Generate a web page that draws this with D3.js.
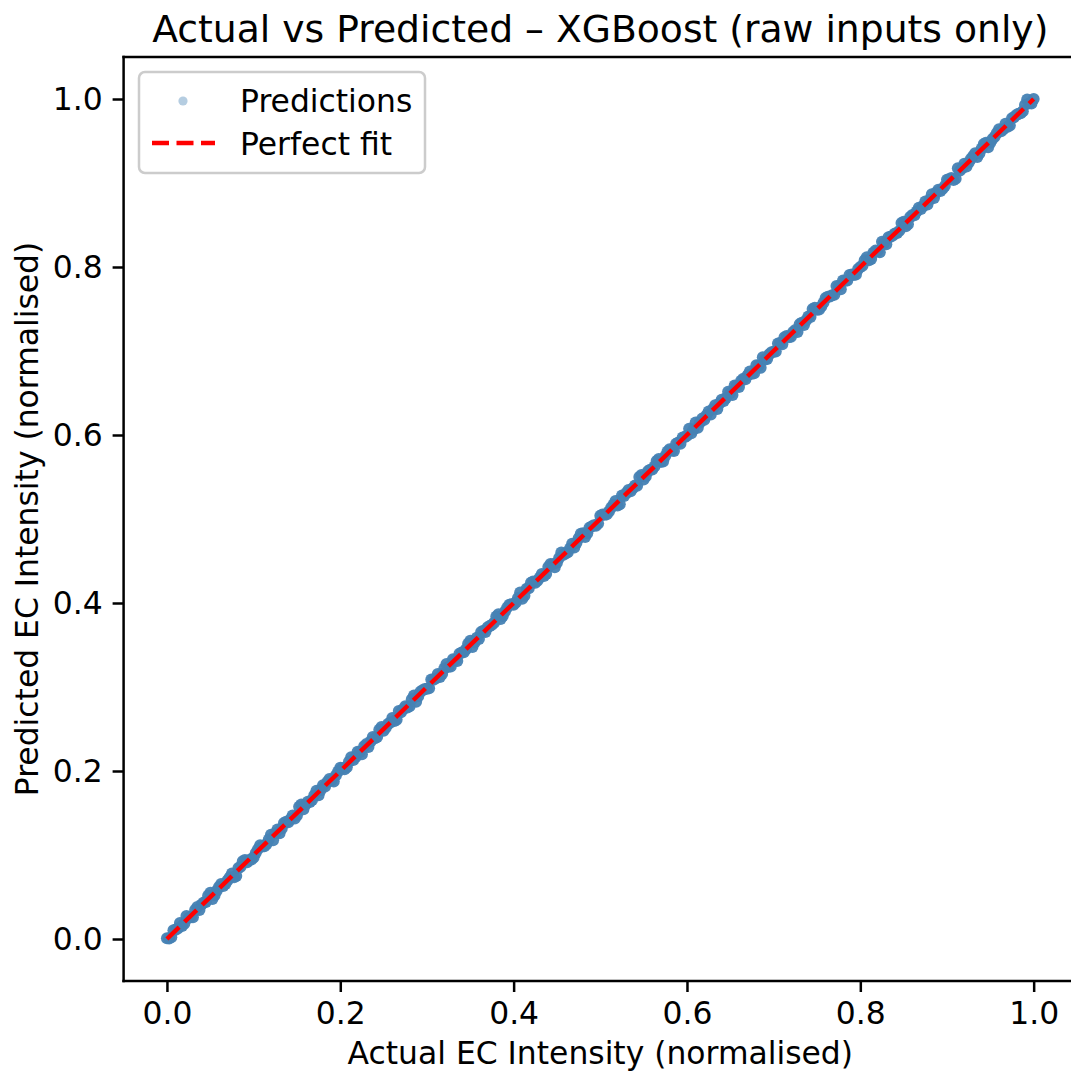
<!DOCTYPE html>
<html>
<head>
<meta charset="utf-8">
<script src="https://cdn.jsdelivr.net/npm/d3@7"></script>
<style>
  body { margin: 0; background: #fff; }
  svg text { font-family: "DejaVu Sans", sans-serif; fill: #000; }
</style>
</head>
<body>
<svg id="chart" width="1071" height="1073"></svg>
<script>
// actual values (x) and model predictions (y)
var actual = [
  0.000,0.005,0.010,0.015,0.020,0.025,0.030,0.035,0.040,0.045,
  0.050,0.055,0.060,0.065,0.070,0.075,0.080,0.085,0.090,0.095,
  0.100,0.105,0.110,0.115,0.120,0.125,0.130,0.135,0.140,0.145,
  0.150,0.155,0.160,0.165,0.170,0.175,0.180,0.185,0.190,0.195,
  0.200,0.205,0.210,0.215,0.220,0.225,0.230,0.235,0.240,0.245,
  0.250,0.255,0.260,0.265,0.270,0.275,0.280,0.285,0.290,0.295,
  0.300,0.305,0.310,0.315,0.320,0.325,0.330,0.335,0.340,0.345,
  0.350,0.355,0.360,0.365,0.370,0.375,0.380,0.385,0.390,0.395,
  0.400,0.405,0.410,0.415,0.420,0.425,0.430,0.435,0.440,0.445,
  0.450,0.455,0.460,0.465,0.470,0.475,0.480,0.485,0.490,0.495,
  0.500,0.505,0.510,0.515,0.520,0.525,0.530,0.535,0.540,0.545,
  0.550,0.555,0.560,0.565,0.570,0.575,0.580,0.585,0.590,0.595,
  0.600,0.605,0.610,0.615,0.620,0.625,0.630,0.635,0.640,0.645,
  0.650,0.655,0.660,0.665,0.670,0.675,0.680,0.685,0.690,0.695,
  0.700,0.705,0.710,0.715,0.720,0.725,0.730,0.735,0.740,0.745,
  0.750,0.755,0.760,0.765,0.770,0.775,0.780,0.785,0.790,0.795,
  0.800,0.805,0.810,0.815,0.820,0.825,0.830,0.835,0.840,0.845,
  0.850,0.855,0.860,0.865,0.870,0.875,0.880,0.885,0.890,0.895,
  0.900,0.905,0.910,0.915,0.920,0.925,0.930,0.935,0.940,0.945,
  0.950,0.955,0.960,0.965,0.970,0.975,0.980,0.985,0.990,0.995,
  1.000,
  0.0025,0.0075,0.0125,0.0175,0.0225,0.0275,0.0325,0.0375,0.0425,0.0475,
  0.0525,0.0575,0.0625,0.0675,0.0725,0.0775,0.0825,0.0875,0.0925,0.0975,
  0.1025,0.1075,0.1125,0.1175,0.1225,0.1275,0.1325,0.1375,0.1425,0.1475,
  0.1525,0.1575,0.1625,0.1675,0.1725,0.1775,0.1825,0.1875,0.1925,0.1975,
  0.2025,0.2075,0.2125,0.2175,0.2225,0.2275,0.2325,0.2375,0.2425,0.2475,
  0.2525,0.2575,0.2625,0.2675,0.2725,0.2775,0.2825,0.2875,0.2925,0.2975,
  0.3025,0.3075,0.3125,0.3175,0.3225,0.3275,0.3325,0.3375,0.3425,0.3475,
  0.3525,0.3575,0.3625,0.3675,0.3725,0.3775,0.3825,0.3875,0.3925,0.3975,
  0.4025,0.4075,0.4125,0.4175,0.4225,0.4275,0.4325,0.4375,0.4425,0.4475,
  0.4525,0.4575,0.4625,0.4675,0.4725,0.4775,0.4825,0.4875,0.4925,0.4975,
  0.5025,0.5075,0.5125,0.5175,0.5225,0.5275,0.5325,0.5375,0.5425,0.5475,
  0.5525,0.5575,0.5625,0.5675,0.5725,0.5775,0.5825,0.5875,0.5925,0.5975,
  0.6025,0.6075,0.6125,0.6175,0.6225,0.6275,0.6325,0.6375,0.6425,0.6475,
  0.6525,0.6575,0.6625,0.6675,0.6725,0.6775,0.6825,0.6875,0.6925,0.6975,
  0.7025,0.7075,0.7125,0.7175,0.7225,0.7275,0.7325,0.7375,0.7425,0.7475,
  0.7525,0.7575,0.7625,0.7675,0.7725,0.7775,0.7825,0.7875,0.7925,0.7975,
  0.8025,0.8075,0.8125,0.8175,0.8225,0.8275,0.8325,0.8375,0.8425,0.8475,
  0.8525,0.8575,0.8625,0.8675,0.8725,0.8775,0.8825,0.8875,0.8925,0.8975,
  0.9025,0.9075,0.9125,0.9175,0.9225,0.9275,0.9325,0.9375,0.9425,0.9475,
  0.9525,0.9575,0.9625,0.9675,0.9725,0.9775,0.9825,0.9875,0.9925,0.9975
];
var predicted = [
  0.001,0.002,0.011,0.019,0.018,0.025,0.026,0.038,0.041,0.044,
  0.055,0.052,0.062,0.063,0.070,0.078,0.075,0.086,0.094,0.094,
  0.097,0.107,0.110,0.113,0.124,0.126,0.126,0.138,0.139,0.147,
  0.147,0.160,0.160,0.163,0.171,0.171,0.183,0.187,0.189,0.195,
  0.204,0.202,0.211,0.213,0.223,0.220,0.232,0.235,0.239,0.249,
  0.248,0.256,0.263,0.261,0.270,0.277,0.277,0.290,0.289,0.296,
  0.298,0.309,0.310,0.312,0.322,0.324,0.333,0.331,0.341,0.345,
  0.355,0.353,0.357,0.367,0.371,0.374,0.384,0.381,0.390,0.398,
  0.398,0.406,0.405,0.417,0.424,0.424,0.430,0.432,0.443,0.446,
  0.448,0.460,0.459,0.465,0.466,0.477,0.483,0.483,0.491,0.492,
  0.504,0.505,0.509,0.517,0.516,0.528,0.531,0.533,0.540,0.550,
  0.547,0.557,0.559,0.569,0.568,0.575,0.583,0.581,0.591,0.597,
  0.599,0.602,0.615,0.615,0.618,0.628,0.631,0.631,0.642,0.644,
  0.650,0.659,0.657,0.667,0.671,0.673,0.683,0.680,0.690,0.696,
  0.699,0.709,0.708,0.718,0.717,0.725,0.732,0.731,0.741,0.750,
  0.749,0.753,0.763,0.765,0.767,0.777,0.784,0.784,0.791,0.791,
  0.800,0.808,0.808,0.817,0.819,0.830,0.827,0.836,0.840,0.843,
  0.854,0.851,0.862,0.866,0.869,0.878,0.880,0.882,0.892,0.893,
  0.904,0.906,0.905,0.915,0.923,0.924,0.932,0.931,0.941,0.948,
  0.948,0.955,0.964,0.964,0.967,0.977,0.981,0.983,0.993,0.995,
  1.000,
  0.0005,0.0105,0.0125,0.0155,0.0275,0.0265,0.0345,0.0345,0.0435,0.0515,
  0.0475,0.0575,0.0655,0.0655,0.0735,0.0735,0.0845,0.0925,0.0915,0.0945,
  0.1025,0.1115,0.1105,0.1185,0.1175,0.1305,0.1315,0.1395,0.1425,0.1435,
  0.1575,0.1545,0.1635,0.1655,0.1765,0.1775,0.1815,0.1905,0.1875,0.1995,
  0.2035,0.2045,0.2165,0.2165,0.2225,0.2295,0.2285,0.2405,0.2405,0.2525,
  0.2515,0.2575,0.2595,0.2715,0.2735,0.2755,0.2855,0.2825,0.2945,0.2975,
  0.2985,0.3085,0.3155,0.3155,0.3275,0.3245,0.3325,0.3395,0.3415,0.3515,
  0.3475,0.3585,0.3655,0.3655,0.3725,0.3765,0.3865,0.3845,0.3945,0.3985,
  0.4005,0.4125,0.4085,0.4175,0.4255,0.4265,0.4345,0.4345,0.4465,0.4425,
  0.4535,0.4575,0.4605,0.4705,0.4715,0.4825,0.4785,0.4895,0.4925,0.4945,
  0.5055,0.5055,0.5135,0.5215,0.5175,0.5275,0.5345,0.5365,0.5395,0.5525,
  0.5505,0.5585,0.5625,0.5715,0.5685,0.5805,0.5815,0.5895,0.5895,0.5975,
  0.6075,0.6065,0.6085,0.6195,0.6235,0.6245,0.6355,0.6375,0.6405,0.6515,
  0.6475,0.6585,0.6645,0.6665,0.6755,0.6735,0.6825,0.6925,0.6905,0.6985,
  0.6995,0.7095,0.7165,0.7165,0.7225,0.7225,0.7335,0.7365,0.7405,0.7515,
  0.7495,0.7575,0.7645,0.7665,0.7775,0.7735,0.7835,0.7905,0.7905,0.7975,
  0.8015,0.8115,0.8095,0.8195,0.8175,0.8285,0.8355,0.8375,0.8405,0.8525,
  0.8485,0.8595,0.8615,0.8705,0.8725,0.8745,0.8865,0.8885,0.8905,0.8965,
  0.9045,0.9035,0.9175,0.9175,0.9195,0.9285,0.9355,0.9355,0.9465,0.9425,
  0.9525,0.9595,0.9615,0.9705,0.9685,0.9785,0.9825,0.9855,0.9995,0.9945
];
var fitLine = [0, 1];
var tickValues = [0.0, 0.2, 0.4, 0.6, 0.8, 1.0];
var seriesNames = ["Predictions", "Perfect fit"];

var svg = d3.select("#chart");

// plot area (right spine falls just outside the picture)
var plotLeft = 123.6, plotRight = 1077, plotTop = 57, plotBottom = 981;

var x = d3.scaleLinear().domain([-0.05, 1.05]).range([plotLeft, plotRight]);
var y = d3.scaleLinear().domain([-0.05, 1.05]).range([plotBottom, plotTop]);

var fs = 31.4;

// points
var pts = actual.map(function(a, i) { return { a: a, p: predicted[i] }; });

svg.append("g")
  .selectAll("circle")
  .data(pts)
  .enter()
  .append("circle")
  .attr("cx", function(d) { return x(d.a); })
  .attr("cy", function(d) { return y(d.p); })
  .attr("r", 6)
  .attr("fill", "steelblue")
  .attr("fill-opacity", 0.95);

// perfect fit line
svg.append("line")
  .attr("x1", x(fitLine[0]))
  .attr("y1", y(fitLine[0]))
  .attr("x2", x(fitLine[1]))
  .attr("y2", y(fitLine[1]))
  .attr("stroke", "red")
  .attr("stroke-width", 4.4)
  .attr("stroke-dasharray", "17,7.5");

// axes
var xAxis = d3.axisBottom(x).tickValues(tickValues).tickFormat(d3.format(".1f"))
  .tickSize(11).tickPadding(10);
var yAxis = d3.axisLeft(y).tickValues(tickValues).tickFormat(d3.format(".1f"))
  .tickSize(11).tickPadding(10);

var gx = svg.append("g").attr("transform", "translate(0," + plotBottom + ")").call(xAxis);
var gy = svg.append("g").attr("transform", "translate(" + plotLeft + ",0)").call(yAxis);

[gx, gy].forEach(function(g) {
  g.select(".domain").remove();
  g.selectAll(".tick line").attr("stroke", "#000").attr("stroke-width", 2.5);
  g.selectAll(".tick text")
    .style("font-family", "DejaVu Sans, sans-serif")
    .style("font-size", fs + "px")
    .attr("fill", "#000");
});

// spines
svg.append("line").attr("x1", plotLeft).attr("x2", plotLeft).attr("y1", plotTop).attr("y2", plotBottom)
  .attr("stroke", "#000").attr("stroke-width", 2.5).attr("stroke-linecap", "square");
svg.append("line").attr("x1", plotLeft).attr("x2", plotRight).attr("y1", plotBottom).attr("y2", plotBottom)
  .attr("stroke", "#000").attr("stroke-width", 2.5).attr("stroke-linecap", "square");
svg.append("line").attr("x1", plotLeft).attr("x2", plotRight).attr("y1", plotTop).attr("y2", plotTop)
  .attr("stroke", "#000").attr("stroke-width", 2.5).attr("stroke-linecap", "square");
svg.append("line").attr("x1", plotRight).attr("x2", plotRight).attr("y1", plotTop).attr("y2", plotBottom)
  .attr("stroke", "#000").attr("stroke-width", 2.5);

// title and axis labels
svg.append("text")
  .attr("x", (plotLeft + plotRight) / 2)
  .attr("y", 42)
  .attr("text-anchor", "middle")
  .style("font-size", "37.7px")
  .text("Actual vs Predicted \u2013 XGBoost (raw inputs only)");

svg.append("text")
  .attr("x", (plotLeft + plotRight) / 2)
  .attr("y", 1064)
  .attr("text-anchor", "middle")
  .style("font-size", fs + "px")
  .text("Actual EC Intensity (normalised)");

svg.append("text")
  .attr("transform", "translate(38," + ((plotTop + plotBottom) / 2) + ") rotate(-90)")
  .attr("text-anchor", "middle")
  .style("font-size", fs + "px")
  .text("Predicted EC Intensity (normalised)");

// legend
var lg = svg.append("g");
lg.append("rect")
  .attr("x", 139).attr("y", 72)
  .attr("width", 286).attr("height", 101)
  .attr("rx", 6).attr("ry", 6)
  .attr("fill", "#fff").attr("fill-opacity", 0.8)
  .attr("stroke", "#cccccc").attr("stroke-width", 2.5);

lg.append("circle")
  .attr("cx", 183).attr("cy", 101).attr("r", 4.6)
  .attr("fill", "steelblue").attr("fill-opacity", 0.4);

lg.append("line")
  .attr("x1", 152).attr("x2", 215).attr("y1", 143).attr("y2", 143)
  .attr("stroke", "red").attr("stroke-width", 4.4)
  .attr("stroke-dasharray", "17,7.5");

lg.selectAll("text.lab")
  .data(seriesNames)
  .enter()
  .append("text")
  .attr("class", "lab")
  .attr("x", 240)
  .attr("y", function(d, i) { return 112 + i * 43; })
  .style("font-size", fs + "px")
  .text(function(d) { return d; });
</script>
</body>
</html>
